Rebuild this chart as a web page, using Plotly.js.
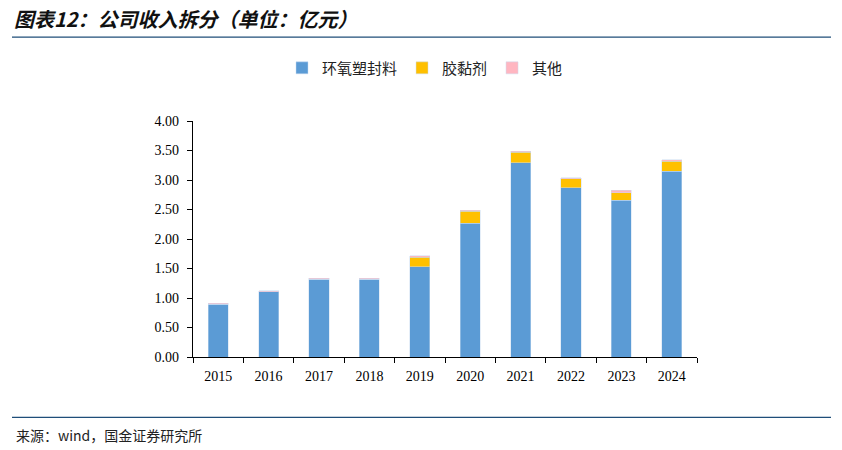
<!DOCTYPE html>
<html>
<head>
<meta charset="utf-8">
<script src="https://cdn.plot.ly/plotly-3.0.1.min.js"></script>
<style>html,body{margin:0;padding:0;background:#fff;}#chart{width:842px;height:450px;}</style>
</head>
<body>
<div id="chart"></div>
<script>
const years = ['2015','2016','2017','2018','2019','2020','2021','2022','2023','2024'];
const epoxy = [0.89, 1.11, 1.32, 1.32, 1.53, 2.27, 3.29, 2.87, 2.66, 3.15];
const adhesive = [0.00, 0.00, 0.00, 0.00, 0.16, 0.20, 0.18, 0.15, 0.12, 0.17];
const other = [0.02, 0.015, 0.015, 0.015, 0.03, 0.02, 0.02, 0.02, 0.05, 0.02];
const seriesNames = ['环氧塑封料', '胶黏剂', '其他'];
const yTicks = [0, 0.5, 1, 1.5, 2, 2.5, 3, 3.5, 4];

// layout geometry (pixels)
const W = 842, H = 450;
const L = 193, R = 697, T = 121, B = 357.5;
const px = x => (x - L) / (R - L);
const py = y => (B - y) / (B - T);

const colors = ['#5B9BD5', '#FFC000', '#FFB6C1'];
const vals = [epoxy, adhesive, other];
const traces = vals.map((v, i) => ({
  type: 'bar', x: years, y: v, name: seriesNames[i],
  marker: {color: colors[i], line: {color: 'rgba(200,220,240,0.6)', width: 0.8}},
  width: 0.4, hoverinfo: 'skip'
}));

const layout = {
  width: W, height: H,
  margin: {l: L, r: W - R, t: T, b: H - B, pad: 0},
  paper_bgcolor: '#fff', plot_bgcolor: '#fff',
  barmode: 'stack',
  showlegend: true,
  legend: {orientation: 'h', x: px(425), xanchor: 'center', y: py(68), yanchor: 'middle',
    font: {family: 'Noto Sans CJK SC, sans-serif', size: 15, color: '#222'},
    itemwidth: 30, tracegroupgap: 0, traceorder: 'normal'},
  xaxis: {type: 'category', tickson: 'boundaries', ticks: 'outside', ticklen: 5, tickcolor: '#000',
    showline: true, linecolor: '#000', linewidth: 1.3, showgrid: false, zeroline: false,
    ticklabelstandoff: 6,
    tickfont: {family: 'Liberation Serif, Times New Roman, serif', size: 14, color: '#000'}},
  yaxis: {range: [0, 4], tickvals: yTicks, ticktext: yTicks.map(v => v.toFixed(2)),
    ticks: 'outside', ticklen: 5, tickcolor: '#000', showline: true, linecolor: '#000', linewidth: 1.3,
    showgrid: false, zeroline: false, ticklabelstandoff: 5,
    tickfont: {family: 'Liberation Serif, Times New Roman, serif', size: 14, color: '#000'}},
  shapes: [
    {type: 'line', xref: 'paper', yref: 'paper', x0: px(12), x1: px(831), y0: py(37), y1: py(37),
      line: {color: '#1F4E79', width: 1.3}},
    {type: 'line', xref: 'paper', yref: 'paper', x0: px(12), x1: px(831), y0: py(418), y1: py(418),
      line: {color: '#1F4E79', width: 1.3}}
  ],
  annotations: [
    {xref: 'paper', yref: 'paper', x: px(12), y: py(18), xanchor: 'left', yanchor: 'middle', showarrow: false,
      text: '<b><i>图表12：公司收入拆分（单位：亿元）</i></b>',
      font: {family: 'Noto Sans CJK SC, sans-serif', size: 20, color: '#111'}},
    {xref: 'paper', yref: 'paper', x: px(14), y: py(436), xanchor: 'left', yanchor: 'middle', showarrow: false,
      text: '来源：wind，国金证券研究所',
      font: {family: 'Noto Sans CJK SC, sans-serif', size: 14, color: '#222'}}
  ]
};

Plotly.newPlot('chart', traces, layout, {staticPlot: true, displayModeBar: false});
</script>
</body>
</html>
